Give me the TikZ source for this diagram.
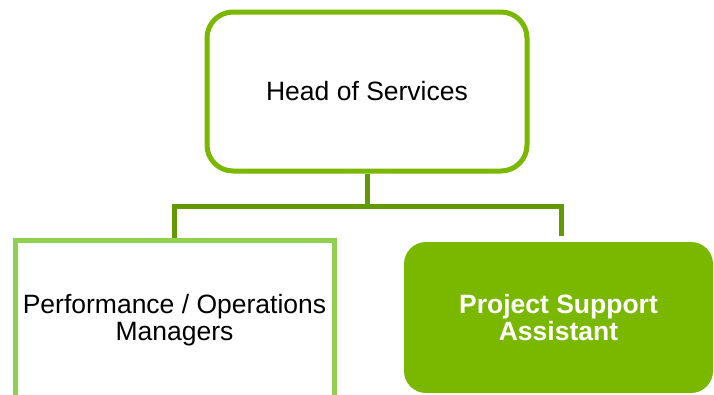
\documentclass[tikz,border=0pt]{standalone}
\usepackage{fontspec}
\setmainfont{Liberation Sans}
\usetikzlibrary{positioning}

\definecolor{HeadGreen}{HTML}{7AB800}
\definecolor{LinkGreen}{HTML}{619A00}
\definecolor{LightGreen}{HTML}{92D050}

\begin{document}
\begin{tikzpicture}[x=1pt,y=-1pt,
    orgtext/.style={font=\fontsize{26.5}{27}\selectfont, align=center},
    link/.style={draw=LinkGreen, line width=5pt}]
    \useasboundingbox (0,0) rectangle (714,394);
    % Boxes of the chart
    \node (Head) [orgtext, draw=HeadGreen, line width=5pt, rounded corners=26pt,
        minimum width=320pt, minimum height=159pt] at (367,91.5) {Head of Services};
    \node (Perf) [orgtext, draw=LightGreen, line width=5pt,
        minimum width=319pt, minimum height=160pt] at (174.5,320) {Performance / Operations\\Managers};
    \node (Assist) [orgtext, fill=HeadGreen, text=white, font=\bfseries\fontsize{26.5}{27}\selectfont,
        rounded corners=22pt, minimum width=309pt, minimum height=151pt] at (558.5,317.5) {Project Support\\Assistant};
    % Connectors
    \draw [link] (Head.south) -- ++(0,33) coordinate (Split);
    \draw [link] (Split) -| (Perf.north);
    \draw [link] (Split) -| ([xshift=2.5pt,yshift=6pt]Assist.north);
\end{tikzpicture}
\end{document}
